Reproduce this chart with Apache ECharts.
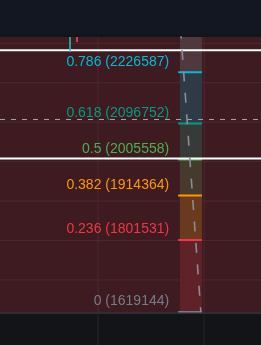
<!DOCTYPE html>
<html><head><meta charset="utf-8">
<script src="https://cdn.jsdelivr.net/npm/echarts@6/dist/echarts.min.js"></script>
<style>html,body{margin:0;padding:0;background:#141519;overflow:hidden;} #c{width:261px;height:345px;}</style>
</head><body><div id="c"></div>
<script>
// ---- data ----
const fibRatios = [0, 0.236, 0.382, 0.5, 0.618, 0.786, 1];
const fibPrices = [1619144, 1801531, 1914364, 2005558, 2096752, 2226587, 2391972];
const fibStartBar = 25.45, fibFillStartBar = 25.7, fibEndBar = 28.85;
const trendBars = [25.57, 28.69];
const trendPrices = [2391972, 1619144];
const horizontalLevels = [2282500, 2008300];
const lastPrice = 2106900;
const gridPrices = [1700000, 1800000, 1900000, 2000000, 2100000, 2200000, 2300000];
const gridBars = [14, 29.15];
const wickBars = [10, 11];
const wickLows = [2278000, 2303500];
const wickHighs = [2360000, 2360000];
const priceMin = 1617600, priceMax = 2316000;
const barMin = 0, barMax = 37.2857;

// ---- styles ----
const levelColors = ['#787b86', '#f23645', '#ff9800', '#4caf50', '#089981', '#00bcd4', '#787b86'];
const bandColors = ['#5e2228', '#693a1e', '#463a2c', '#363a38', '#2f3a47', '#50383f'];
const wickColors = ['#1fc7c1', '#e8506a'];
const labelFont = "14px 'Liberation Sans', Arial, sans-serif";

const chart = echarts.init(document.getElementById('c'), null, {renderer: 'canvas'});

function hLineSeries(name, data, style, z, gridIdx) {
  return {
    type: 'custom', name, xAxisIndex: gridIdx || 0, yAxisIndex: gridIdx || 0, z, clip: true, silent: true,
    data: data.map(v => [v]),
    renderItem(params, api) {
      const cs = params.coordSys;
      const y = api.coord([barMin, api.value(0)])[1];
      return {type: 'line', shape: {x1: cs.x, y1: y, x2: cs.x + cs.width, y2: y}, style};
    }
  };
}
function vLineSeries(name, data, style, z, gridIdx) {
  return {
    type: 'custom', name, xAxisIndex: gridIdx, yAxisIndex: gridIdx, z, clip: true, silent: true,
    data: data.map(v => [v]),
    renderItem(params, api) {
      const cs = params.coordSys;
      const x = api.coord([api.value(0), gridIdx === 0 ? priceMin : 0])[0];
      return {type: 'line', shape: {x1: x, y1: cs.y, x2: x, y2: cs.y + cs.height}, style};
    }
  };
}

const option = {
  animation: false,
  backgroundColor: 'transparent',
  graphic: [{type: 'rect', shape: {x: 0, y: 0, width: 261, height: 34}, style: {fill: '#131722'}, z: -10, silent: true}],
  grid: [
    {left: 0, right: 0, top: 37, height: 275.5, show: true, backgroundColor: '#3d1b21', borderWidth: 0},
    {left: 0, right: 0, top: 313.5, bottom: 0, show: true, backgroundColor: '#131417', borderWidth: 0}
  ],
  xAxis: [
    {type: 'value', gridIndex: 0, min: barMin, max: barMax, axisLabel: {show: false}, axisTick: {show: false},
     splitLine: {show: false}, axisLine: {show: true, onZero: false, lineStyle: {color: '#2c2f38', width: 2}}},
    {type: 'value', gridIndex: 1, min: barMin, max: barMax, show: false, splitLine: {show: false}}
  ],
  yAxis: [
    {type: 'value', gridIndex: 0, min: priceMin, max: priceMax, show: false, splitLine: {show: false}},
    {type: 'value', gridIndex: 1, min: 0, max: 1, show: false, splitLine: {show: false}}
  ],
  series: [
    hLineSeries('hgrid', gridPrices, {stroke: '#4d2930', lineWidth: 1}, 1, 0),
    vLineSeries('vgrid', gridBars, {stroke: '#4d2930', lineWidth: 1}, 1, 0),
    vLineSeries('vgrid2', gridBars, {stroke: '#24262c', lineWidth: 1}, 1, 1),
    {
      type: 'custom', name: 'fibBands', z: 2, clip: true, silent: true,
      data: bandColors.map((c, i) => [i]),
      renderItem(params, api) {
        const i = api.value(0);
        const p0 = api.coord([fibFillStartBar, fibPrices[i]]);
        const p1 = api.coord([fibEndBar, fibPrices[i + 1]]);
        return {type: 'rect', shape: {x: p0[0], y: p1[1], width: p1[0] - p0[0], height: p0[1] - p1[1]},
                style: {fill: bandColors[i]}};
      }
    },
    {
      type: 'custom', name: 'fibLevels', z: 3, clip: true, silent: true,
      data: fibRatios.map((r, i) => [i]),
      renderItem(params, api) {
        const i = api.value(0);
        const a = api.coord([fibStartBar, fibPrices[i]]);
        const b = api.coord([fibEndBar, fibPrices[i]]);
        return {type: 'group', children: [
          {type: 'line', shape: {x1: a[0], y1: a[1], x2: b[0], y2: b[1]}, style: {stroke: levelColors[i], lineWidth: 2}},
          {type: 'text', x: a[0] - 9, y: a[1] - 3.5,
           style: {text: fibRatios[i] + ' (' + fibPrices[i] + ')', fill: levelColors[i], font: labelFont,
                   align: 'right', verticalAlign: 'bottom'}}
        ]};
      }
    },
    hLineSeries('priceLine', [lastPrice], {stroke: '#a9a3a8', lineWidth: 1, lineDash: [5, 6]}, 4, 0),
    hLineSeries('hlines', horizontalLevels, {stroke: '#ffffff', lineWidth: 2}, 4, 0),
    {
      type: 'line', name: 'trend', z: 5, clip: true, silent: true, symbol: 'none',
      data: trendBars.map((b, i) => [b, trendPrices[i]]),
      lineStyle: {color: '#8a8d96', width: 1.6, type: [10, 11.5]}
    },
    {
      type: 'custom', name: 'wicks', z: 6, clip: true, silent: true,
      data: wickBars.map((b, i) => [b, wickLows[i], wickHighs[i]]),
      renderItem(params, api) {
        const lo = api.coord([api.value(0), api.value(1)]);
        const hi = api.coord([api.value(0), api.value(2)]);
        return {type: 'line', shape: {x1: lo[0], y1: lo[1], x2: hi[0], y2: hi[1]},
                style: {stroke: wickColors[params.dataIndex], lineWidth: 1.5}};
      }
    }
  ]
};
chart.setOption(option);
</script>
</body></html>
